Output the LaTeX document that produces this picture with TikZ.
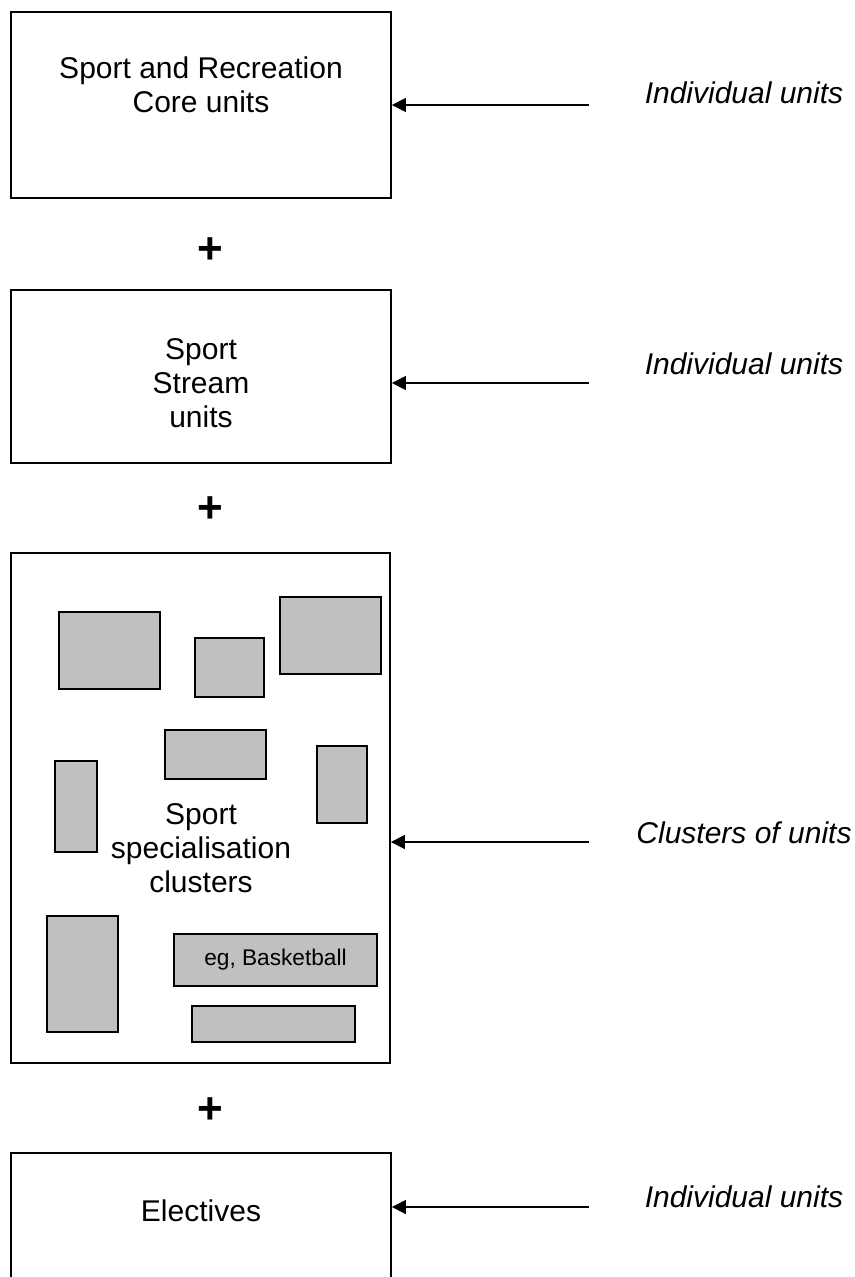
\documentclass[tikz,border=0pt]{standalone}
\usepackage{fontspec}
\setmainfont{Liberation Sans}
\usetikzlibrary{arrows.meta,fit}

\definecolor{cellgray}{HTML}{C0C0C0}

\begin{document}
\begin{tikzpicture}[
    x=0.75pt, y=-0.75pt,
    frame/.style={draw=black, line width=1.4pt, inner sep=0pt, fit={#1}},
    cell/.style={draw=black, fill=cellgray, line width=1.3pt, inner sep=0pt, fit={#1}},
    % multi-line titles are placed by the baseline of their last line
    title/.style={font=\fontsize{22.5}{25.5}\selectfont, align=center, anchor=base, inner sep=0pt},
    note/.style={font=\fontsize{22.5}{25.5}\selectfont\itshape, anchor=base, inner sep=0pt},
    plus/.style={font=\fontsize{33}{36}\selectfont\bfseries, anchor=base, inner sep=0pt},
    feed/.style={line width=1.3pt, -{Triangle[length=10.5pt, width=10.5pt]}}
  ]
  % page area; the last box runs past the lower edge
  \useasboundingbox (0,0) rectangle (855,1277);
  \clip (0,0) rectangle (855,1277);

  % --- main boxes ---
  \node[frame={(11,12) (391,198)}] (core) {};
  \node[frame={(11,290) (391,463)}] (stream) {};
  \node[frame={(11,553) (390,1063)}] (spec) {};
  \node[frame={(11,1153) (391,1300)}] (elect) {};

  % --- plus signs between boxes ---
  \node[plus] (p1) at (210,263) {+};
  \node[plus] (p2) at (210,522) {+};
  \node[plus] (p3) at (210,1123) {+};

  % --- clusters inside the specialisation box ---
  \node[cell={(59,612) (160,689)}] (c1) {};
  \node[cell={(195,638) (264,697)}] (c2) {};
  \node[cell={(280,597) (381,674)}] (c3) {};
  \node[cell={(165,730) (266,779)}] (c4) {};
  \node[cell={(55,761) (97,852)}] (c5) {};
  \node[cell={(317,746) (367,823)}] (c6) {};
  \node[cell={(47,916) (118,1032)}] (c7) {};
  \node[cell={(174,934) (377,986)}] (c8) {};
  \node[font=\fontsize{17}{20}\selectfont, anchor=base, inner sep=0pt] (c8txt) at (275.5,965) {eg, Basketball};
  \node[cell={(192,1006) (355,1042)}] (c9) {};

  % --- box titles ---
  \node[title] (coretxt) at (201,113) {Sport and Recreation\\Core units};
  \node[title] (streamtxt) at (201,427) {Sport\\Stream\\units};
  \node[title] (spectxt) at (201,892) {Sport\\specialisation\\clusters};
  \node[title] (electtxt) at (201,1221) {Electives};

  % --- side notes and arrows ---
  \coordinate (s1) at (589,105);
  \coordinate (s2) at (589,383);
  \coordinate (s3) at (589,842);
  \coordinate (s4) at (589,1207);

  \draw[feed] (s1) -- (s1 -| core.east);
  \draw[feed] (s2) -- (s2 -| stream.east);
  \draw[feed] (s3) -- (s3 -| spec.east);
  \draw[feed] (s4) -- (s4 -| elect.east);

  \node[note] (n1) at (744,104) {Individual units};
  \node[note] (n2) at (744,374) {Individual units};
  \node[note] (n3) at (744,843) {Clusters of units};
  \node[note] (n4) at (744,1207) {Individual units};
\end{tikzpicture}
\end{document}
